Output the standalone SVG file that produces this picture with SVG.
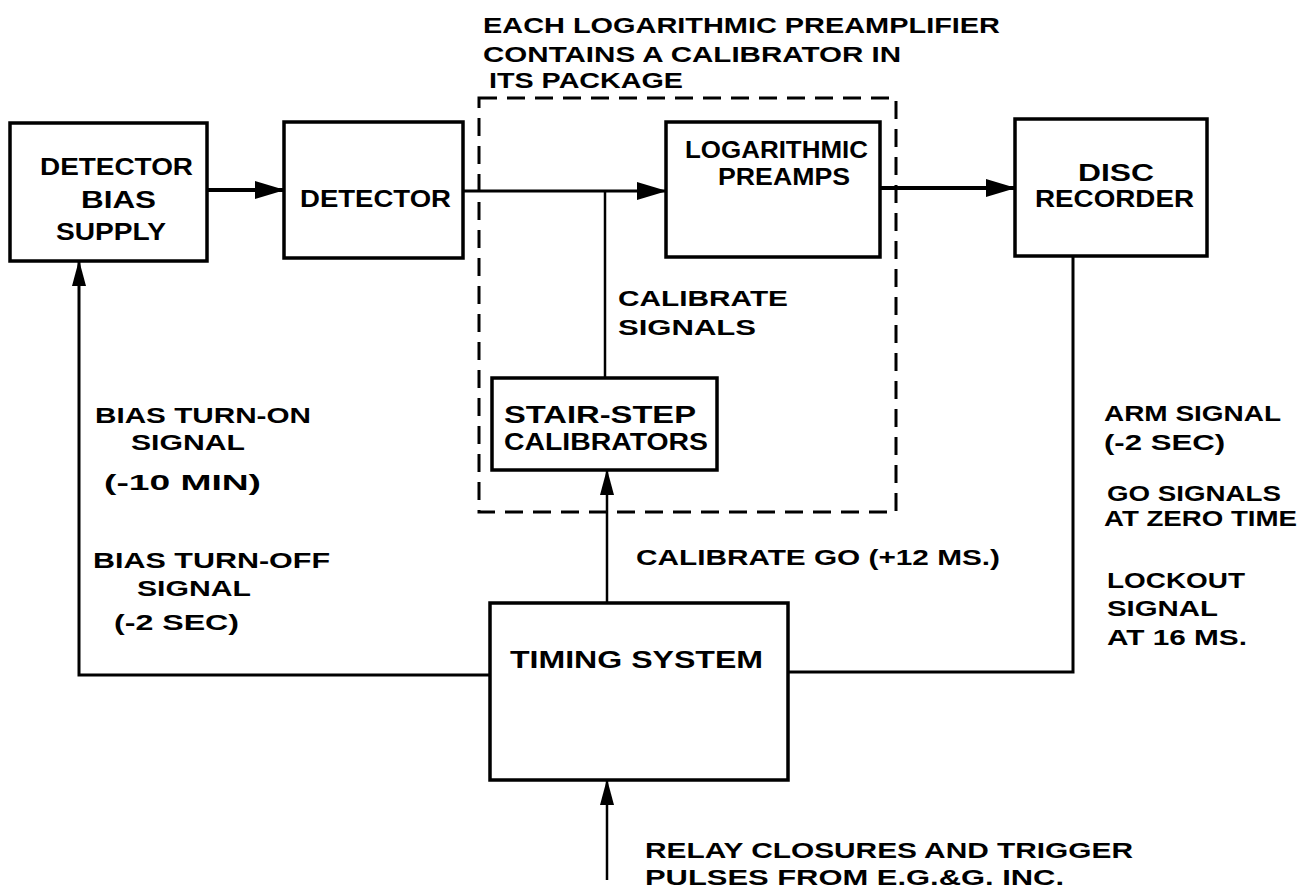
<svg xmlns="http://www.w3.org/2000/svg" width="1299" height="892" viewBox="0 0 1299 892">
<style>
  .box { fill: none; stroke: #000; stroke-width: 3.5; }
  .dash { fill: none; stroke: #000; stroke-width: 3; stroke-dasharray: 18 10; }
  .wire { fill: none; stroke: #000; stroke-width: 2.5; }
  .bus { fill: none; stroke: #000; stroke-width: 4; }
  text { font-family: "Liberation Sans", "DejaVu Sans", sans-serif; font-weight: bold; font-size: 22px; fill: #000; }
  .lbl { font-size: 23px; }
</style>
<defs>
  <marker id="ah" markerUnits="userSpaceOnUse" viewBox="0 0 30 18" refX="29" refY="9" markerWidth="30" markerHeight="18" orient="auto">
    <path d="M0,0 L30,9 L0,18 z" fill="#000"/>
  </marker>
  <marker id="av" markerUnits="userSpaceOnUse" viewBox="0 0 26 14" refX="25" refY="7" markerWidth="26" markerHeight="14" orient="auto">
    <path d="M0,0 L26,7 L0,14 z" fill="#000"/>
  </marker>
</defs>

<g id="note">
  <text x="483" y="33" textLength="517" lengthAdjust="spacingAndGlyphs">EACH LOGARITHMIC PREAMPLIFIER</text>
  <text x="483" y="62" textLength="418" lengthAdjust="spacingAndGlyphs">CONTAINS A CALIBRATOR IN</text>
  <text x="489" y="88" textLength="194" lengthAdjust="spacingAndGlyphs">ITS PACKAGE</text>
</g>

<g id="package">
  <rect class="dash" x="479" y="98" width="417" height="414"/>
</g>

<g id="bias-supply">
  <rect class="box" x="10" y="123" width="197" height="138"/>
  <text class="lbl" x="40" y="175" textLength="153" lengthAdjust="spacingAndGlyphs">DETECTOR</text>
  <text class="lbl" x="81" y="208" textLength="75" lengthAdjust="spacingAndGlyphs">BIAS</text>
  <text class="lbl" x="56" y="240" textLength="110" lengthAdjust="spacingAndGlyphs">SUPPLY</text>
</g>

<g id="detector">
  <rect class="box" x="284" y="122" width="179" height="136"/>
  <text class="lbl" x="300" y="207" textLength="151" lengthAdjust="spacingAndGlyphs">DETECTOR</text>
</g>

<g id="preamps">
  <rect class="box" x="666" y="122" width="214" height="135"/>
  <text class="lbl" x="685" y="158" textLength="183" lengthAdjust="spacingAndGlyphs">LOGARITHMIC</text>
  <text class="lbl" x="718" y="185" textLength="132" lengthAdjust="spacingAndGlyphs">PREAMPS</text>
</g>

<g id="disc-recorder">
  <rect class="box" x="1015" y="119" width="192" height="137"/>
  <text class="lbl" x="1078" y="181" textLength="76" lengthAdjust="spacingAndGlyphs">DISC</text>
  <text class="lbl" x="1035" y="207" textLength="159" lengthAdjust="spacingAndGlyphs">RECORDER</text>
</g>

<g id="calibrators">
  <rect class="box" x="492" y="378" width="225" height="92"/>
  <text class="lbl" x="504" y="423" textLength="192" lengthAdjust="spacingAndGlyphs">STAIR-STEP</text>
  <text class="lbl" x="504" y="450" textLength="204" lengthAdjust="spacingAndGlyphs">CALIBRATORS</text>
</g>

<g id="timing">
  <rect class="box" x="490" y="603" width="298" height="177"/>
  <text class="lbl" x="510" y="668" textLength="253" lengthAdjust="spacingAndGlyphs">TIMING SYSTEM</text>
</g>

<g id="connectors">
  <path class="bus" d="M207,190 H284" marker-end="url(#ah)"/>
  <path class="wire" d="M463,191 H666" marker-end="url(#ah)" style="stroke-width:3"/>
  <path class="wire" d="M605,191 V378"/>
  <path class="bus" d="M880,188 H1015" marker-end="url(#ah)"/>
  <path class="wire" d="M607,603 V470" marker-end="url(#av)"/>
  <path class="wire" d="M490,675 H79 V261" marker-end="url(#av)" style="stroke-width:3"/>
  <path class="wire" d="M788,672 H1073 V256" style="stroke-width:3"/>
  <path class="wire" d="M607,880 V780" marker-end="url(#av)"/>
</g>

<g id="labels">
  <text x="618" y="306" textLength="170" lengthAdjust="spacingAndGlyphs">CALIBRATE</text>
  <text x="618" y="335" textLength="138" lengthAdjust="spacingAndGlyphs">SIGNALS</text>
  <text x="95" y="423" textLength="216" lengthAdjust="spacingAndGlyphs">BIAS TURN-ON</text>
  <text x="131" y="450" textLength="114" lengthAdjust="spacingAndGlyphs">SIGNAL</text>
  <text x="104" y="490" textLength="157" lengthAdjust="spacingAndGlyphs">(-10 MIN)</text>
  <text x="93" y="568" textLength="237" lengthAdjust="spacingAndGlyphs">BIAS TURN-OFF</text>
  <text x="137" y="596" textLength="114" lengthAdjust="spacingAndGlyphs">SIGNAL</text>
  <text x="114" y="630" textLength="125" lengthAdjust="spacingAndGlyphs">(-2 SEC)</text>
  <text x="636" y="565" textLength="364" lengthAdjust="spacingAndGlyphs">CALIBRATE GO (+12 MS.)</text>
  <text x="1104" y="421" textLength="177" lengthAdjust="spacingAndGlyphs">ARM SIGNAL</text>
  <text x="1104" y="450" textLength="121" lengthAdjust="spacingAndGlyphs">(-2 SEC)</text>
  <text x="1107" y="501" textLength="174" lengthAdjust="spacingAndGlyphs">GO SIGNALS</text>
  <text x="1104" y="526" textLength="193" lengthAdjust="spacingAndGlyphs">AT ZERO TIME</text>
  <text x="1107" y="588" textLength="138" lengthAdjust="spacingAndGlyphs">LOCKOUT</text>
  <text x="1107" y="616" textLength="111" lengthAdjust="spacingAndGlyphs">SIGNAL</text>
  <text x="1107" y="645" textLength="140" lengthAdjust="spacingAndGlyphs">AT 16 MS.</text>
  <text x="645" y="858" textLength="488" lengthAdjust="spacingAndGlyphs">RELAY CLOSURES AND TRIGGER</text>
  <text x="645" y="885" textLength="419" lengthAdjust="spacingAndGlyphs">PULSES FROM E.G.&amp;G. INC.</text>
</g>
</svg>
